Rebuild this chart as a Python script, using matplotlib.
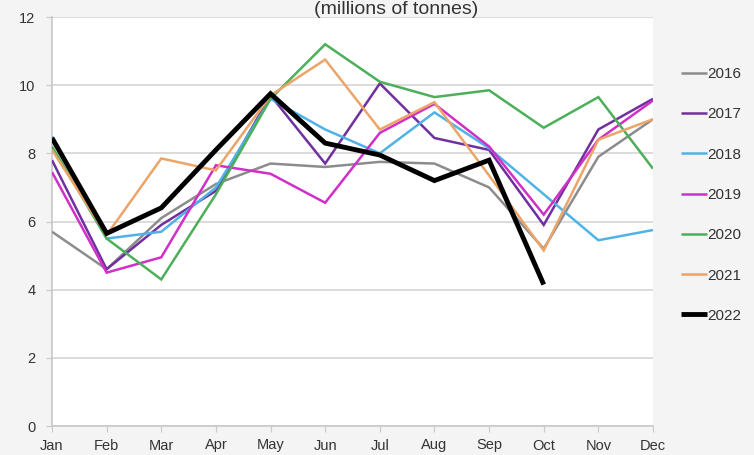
import matplotlib
matplotlib.use("Agg")
import matplotlib.pyplot as plt

months = ["Jan", "Feb", "Mar", "Apr", "May", "Jun", "Jul", "Aug", "Sep", "Oct", "Nov", "Dec"]
years = ["2016", "2017", "2018", "2019", "2020", "2021", "2022"]

v2016 = [5.7, 4.6, 6.1, 7.1, 7.7, 7.6, 7.75, 7.7, 7.0, 5.2, 7.9, 9.0]
v2017 = [7.8, 4.6, 5.9, 6.9, 9.7, 7.7, 10.05, 8.45, 8.1, 5.9, 8.7, 9.6]
v2018 = [8.5, 5.5, 5.7, 7.0, 9.6, 8.7, 8.0, 9.2, 8.15, 6.8, 5.45, 5.75]
v2019 = [7.45, 4.5, 4.95, 7.65, 7.4, 6.55, 8.6, 9.45, 8.2, 6.2, 8.4, 9.55]
v2020 = [8.2, 5.5, 4.3, 6.8, 9.6, 11.2, 10.1, 9.65, 9.85, 8.75, 9.65, 7.55]
v2021 = [8.1, 5.6, 7.85, 7.5, 9.7, 10.75, 8.7, 9.5, 7.35, 5.15, 8.4, 9.0]
v2022 = [8.45, 5.65, 6.4, 8.1, 9.75, 8.3, 7.95, 7.2, 7.8, 4.15]

series = [v2016, v2017, v2018, v2019, v2020, v2021, v2022]
colors = ["#8c8c8c", "#7030a0", "#4fb3e8", "#d02fc8", "#4caf5a", "#eda468", "#000000"]
widths = [1.8, 1.8, 1.8, 1.8, 1.8, 1.8, 3.5]

plt.rcParams['font.family'] = ['Liberation Sans', 'DejaVu Sans']

fig = plt.figure(figsize=(7.54, 4.55), dpi=100)
fig.patch.set_facecolor("#f4f4f4")
ax = fig.add_axes([52/754, 1 - 426/455, (653-52)/754, (426-17)/455])
ax.set_facecolor("white")

for yr, vals, c, w in zip(years, series, colors, widths):
    ax.plot(months[:len(vals)], vals, color=c, lw=w, label=yr,
            solid_joinstyle="miter", solid_capstyle="butt", zorder=3)

ax.set_ylim(0, 12)
ax.set_xlim(0, len(months) - 1)
ax.set_yticks([0, 2, 4, 6, 8, 10, 12])
ax.yaxis.grid(True, color="#d9d9d9", lw=1.3)
ax.set_axisbelow(True)
for s in ["top", "right"]:
    ax.spines[s].set_visible(False)
for s in ["left", "bottom"]:
    ax.spines[s].set_color("#c8c8c8")
    ax.spines[s].set_linewidth(1.2)
ax.tick_params(axis="both", colors="#c8c8c8", labelcolor="#333333", labelsize=10.5, length=4)
ax.tick_params(axis="x", pad=5)
ax.tick_params(axis="y", pad=8)

leg = fig.legend(loc="center left", bbox_to_anchor=(673/754, 1 - 195/455), frameon=False,
                 fontsize=11, handlelength=1.7, handletextpad=0.05, labelspacing=1.72,
                 borderpad=0)
for t in leg.get_texts():
    t.set_color("#333333")

fig.text(396/754, 0.998, "(millions of tonnes)", ha="center", va="top",
         fontsize=14, color="#333333")

fig.savefig("out.png", dpi=100, facecolor=fig.get_facecolor())
